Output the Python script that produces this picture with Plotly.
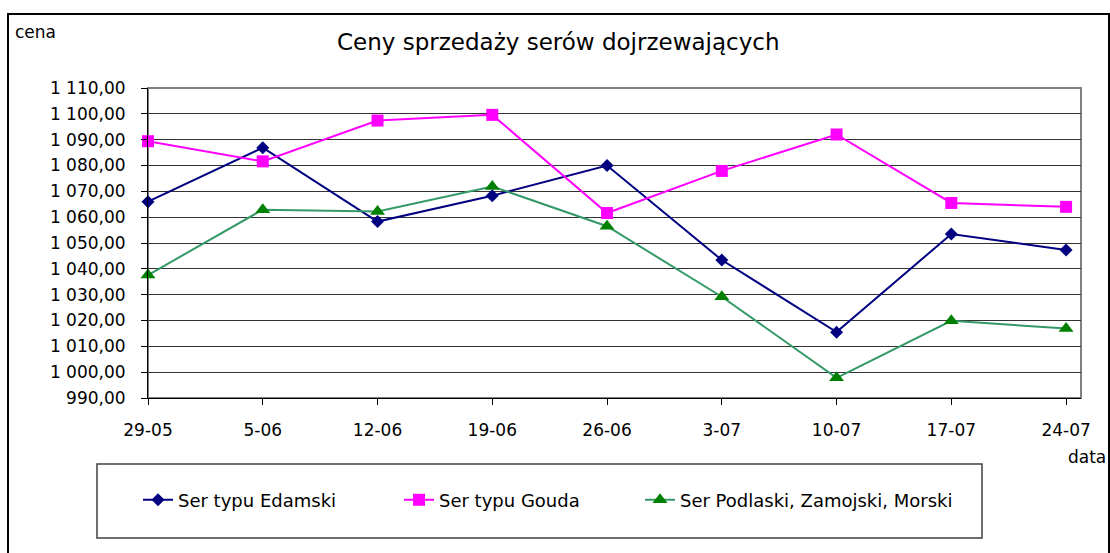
import plotly.graph_objects as go

# ---- data ----
categories = ["29-05", "5-06", "12-06", "19-06", "26-06", "3-07", "10-07", "17-07", "24-07"]
edamski = [1066.0, 1086.9, 1058.3, 1068.3, 1080.0, 1043.4, 1015.5, 1053.5, 1047.3]
gouda = [1089.4, 1081.6, 1097.4, 1099.6, 1061.6, 1077.9, 1092.0, 1065.5, 1064.0]
podlaski = [1037.6, 1062.9, 1062.2, 1071.9, 1056.5, 1029.2, 997.8, 1019.9, 1016.9]
series_names = ["Ser typu Edamski", "Ser typu Gouda", "Ser Podlaski, Zamojski, Morski"]
title_text = "Ceny sprzedaży serów dojrzewających"
y_label = "cena"
x_label = "data"

W, H = 1110, 553
L, R, T, B = 148, 1081, 88, 398  # plot area in pixels
pw, ph = R - L, B - T


def px(x):
    return (x - L) / pw


def py(y):
    return (B - y) / ph


FONT = "DejaVu Sans, Liberation Sans, Arial, sans-serif"

fig = go.Figure()
fig.add_trace(go.Scatter(
    x=categories, y=edamski, name=series_names[0], mode="lines+markers",
    line=dict(color="#000080", width=2),
    marker=dict(symbol="diamond", size=10, color="#000080"),
    cliponaxis=False, legend="legend"))
fig.add_trace(go.Scatter(
    x=categories, y=gouda, name=series_names[1], mode="lines+markers",
    line=dict(color="#FF00FF", width=2),
    marker=dict(symbol="square", size=12, color="#FF00FF"),
    cliponaxis=False, legend="legend2"))
fig.add_trace(go.Scatter(
    x=categories, y=podlaski, name=series_names[2], mode="lines+markers",
    line=dict(color="#339966", width=2),
    marker=dict(symbol="triangle-up", size=13, color="#008000"),
    cliponaxis=False, legend="legend3"))


def leg(xpix):
    return dict(orientation="h", x=px(xpix), xanchor="left", y=py(500), yanchor="middle",
                bgcolor="rgba(0,0,0,0)", borderwidth=0,
                font=dict(family=FONT, size=18, color="black"))


fig.update_layout(
    width=W, height=H,
    margin=dict(l=L, r=W - R, t=T, b=H - B, pad=0),
    paper_bgcolor="white", plot_bgcolor="white",
    separators=", ",
    font=dict(family=FONT, size=17, color="black"),
    showlegend=True,
    legend=leg(138), legend2=leg(399), legend3=leg(640),
    xaxis=dict(type="category", range=[0, 8.13], showgrid=False,
               showline=True, linecolor="black", linewidth=1,
               ticks="outside", ticklen=6, tickcolor="black",
               tickfont=dict(family=FONT, size=17), ticklabelstandoff=11,
               zeroline=False),
    yaxis=dict(range=[990, 1110], dtick=10, tick0=990, tickformat=",.2f",
               showgrid=True, gridcolor="#333333", gridwidth=1,
               showline=True, linecolor="black", linewidth=1,
               ticks="outside", ticklen=6, tickcolor="black",
               tickfont=dict(family=FONT, size=17), ticklabelstandoff=12,
               zeroline=False),
)

shapes = [
    # outer chart border
    dict(type="rect", xref="paper", yref="paper", x0=px(8), x1=px(1109), y0=py(600), y1=py(14),
         line=dict(color="black", width=2), fillcolor="rgba(0,0,0,0)", layer="above"),
    # plot area border
    dict(type="rect", xref="paper", yref="paper", x0=0, x1=1, y0=0, y1=1,
         line=dict(color="#808080", width=2), fillcolor="rgba(0,0,0,0)", layer="below"),
    # legend box
    dict(type="rect", xref="paper", yref="paper", x0=px(97), x1=px(982), y0=py(538), y1=py(464),
         line=dict(color="#404040", width=1.5), fillcolor="rgba(0,0,0,0)", layer="above"),
]
fig.update_layout(shapes=shapes)

fig.add_annotation(text=title_text, xref="paper", yref="paper", x=px(558), y=py(42),
                   xanchor="center", yanchor="middle", showarrow=False,
                   font=dict(family=FONT, size=23, color="black"))
fig.add_annotation(text=y_label, xref="paper", yref="paper", x=px(13), y=py(32),
                   xanchor="left", yanchor="middle", showarrow=False,
                   font=dict(family=FONT, size=17, color="black"))
fig.add_annotation(text=x_label, xref="paper", yref="paper", x=px(1108), y=py(457),
                   xanchor="right", yanchor="middle", showarrow=False,
                   font=dict(family=FONT, size=17, color="black"))

fig.write_html("out.html",
               config={"displayModeBar": False},
               post_script="document.body.style.margin='0';document.body.style.overflow='hidden';")
